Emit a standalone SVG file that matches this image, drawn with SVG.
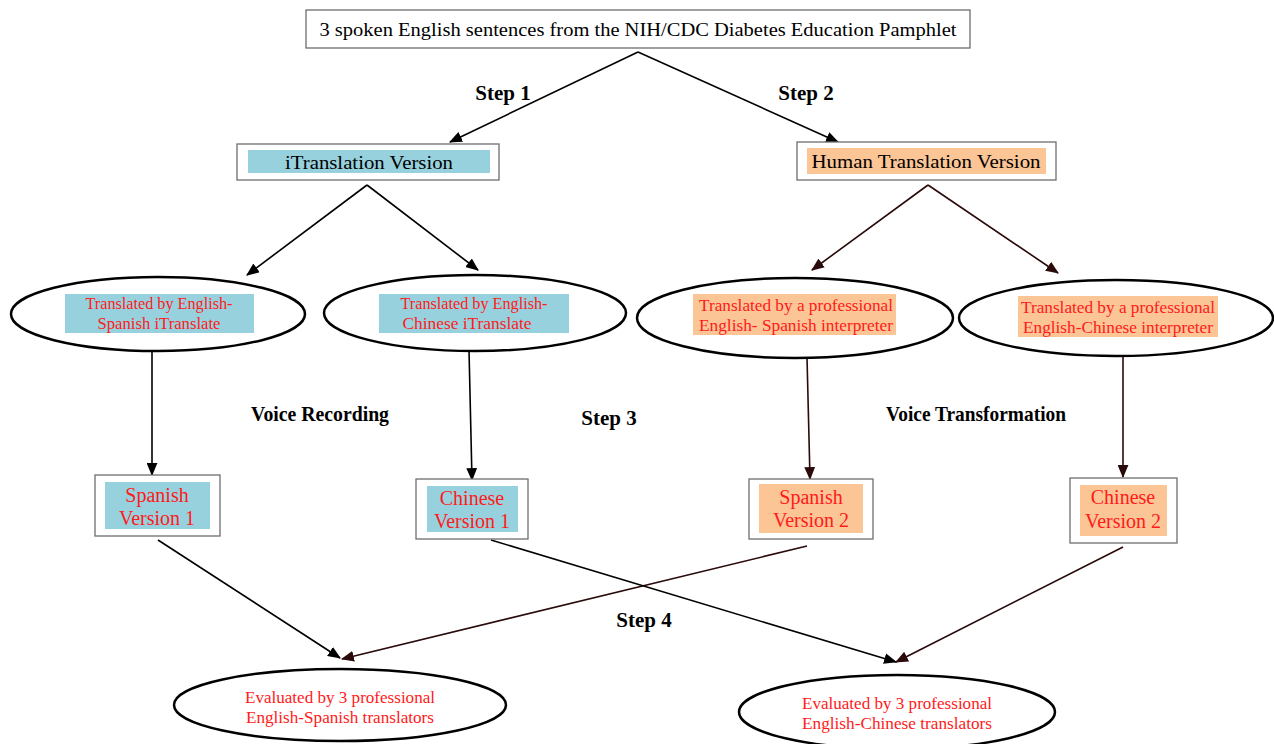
<svg xmlns="http://www.w3.org/2000/svg" width="1274" height="744" viewBox="0 0 1274 744">
<defs>
<marker id="ah" viewBox="0 0 12 10" refX="11" refY="5" markerWidth="13" markerHeight="11" orient="auto" markerUnits="userSpaceOnUse"><path d="M0,0 L12,5 L0,10 z" fill="#000"/></marker>
<marker id="ahb" viewBox="0 0 12 10" refX="11" refY="5" markerWidth="13" markerHeight="11" orient="auto" markerUnits="userSpaceOnUse"><path d="M0,0 L12,5 L0,10 z" fill="#2a0a0a"/></marker>
<style>
.box{fill:#fff;stroke:#6e6e6e;stroke-width:1.3}
.ell{fill:#fff;stroke:#000;stroke-width:2.5}
.blue{fill:#97d1de}
.org{fill:#fbc596}
.t{font-family:"Liberation Serif",serif;text-anchor:middle}
.blk{fill:#000;font-size:19px}
.red{fill:#ff1a1a}
.sm{font-size:17px}
.md{font-size:20px}
.step{font-family:"Liberation Serif",serif;font-weight:bold;font-size:21px;fill:#000;text-anchor:middle}
.c{stroke:#000;stroke-width:1.6;fill:none;marker-end:url(#ah)}
.cb{stroke:#2a0a0a;stroke-width:1.6;fill:none;marker-end:url(#ahb)}
</style>
</defs>
<rect width="1274" height="744" fill="#fff"/>

<g id="connectors">
<line class="c" x1="638" y1="52" x2="450" y2="142"/>
<line class="c" x1="638" y1="52" x2="838" y2="142"/>
<line class="c" x1="367" y1="185" x2="247" y2="275"/>
<line class="c" x1="367" y1="185" x2="478" y2="270"/>
<line class="cb" x1="928" y1="185" x2="812" y2="270"/>
<line class="cb" x1="928" y1="185" x2="1058" y2="273"/>
<line class="c" x1="152" y1="352" x2="152" y2="475"/>
<line class="c" x1="469" y1="350" x2="472" y2="480"/>
<line class="cb" x1="807" y1="357" x2="810" y2="479"/>
<line class="cb" x1="1123" y1="355" x2="1123" y2="477"/>
<line class="c" x1="158" y1="540" x2="340" y2="658"/>
<line class="cb" x1="807" y1="546" x2="342" y2="659"/>
<line class="c" x1="491" y1="540" x2="896" y2="662"/>
<line class="cb" x1="1123" y1="547" x2="896" y2="662"/>
</g>

<g id="labels">
<text class="step" x="503" y="100">Step 1</text>
<text class="step" x="806" y="100">Step 2</text>
<text class="step" x="320" y="421" font-size="19" textLength="138" lengthAdjust="spacingAndGlyphs">Voice Recording</text>
<text class="step" x="609" y="425">Step 3</text>
<text class="step" x="976" y="421" font-size="19" textLength="180" lengthAdjust="spacingAndGlyphs">Voice Transformation</text>
<text class="step" x="644" y="627">Step 4</text>
</g>

<g id="source">
<rect class="box" x="306" y="10" width="664" height="38"/>
<text class="t blk" x="638" y="36" textLength="637" lengthAdjust="spacingAndGlyphs">3 spoken English sentences from the NIH/CDC Diabetes Education Pamphlet</text>
</g>

<g id="itranslation">
<rect class="box" x="237" y="144" width="262" height="36"/>
<rect class="blue" x="248" y="150" width="242" height="23"/>
<text class="t blk" x="369" y="169" textLength="168" lengthAdjust="spacingAndGlyphs">iTranslation Version</text>
</g>

<g id="human">
<rect class="box" x="797" y="142" width="259" height="38"/>
<rect class="org" x="807" y="148" width="239" height="26"/>
<text class="t blk" x="926" y="168" textLength="229" lengthAdjust="spacingAndGlyphs">Human Translation Version</text>
</g>

<g id="it-spanish">
<ellipse class="ell" cx="158" cy="314" rx="147" ry="37"/>
<rect class="blue" x="65" y="294" width="189" height="39"/>
<text class="t red sm" x="159" y="309" textLength="147" lengthAdjust="spacingAndGlyphs">Translated by English-</text>
<text class="t red sm" x="159" y="329" textLength="123" lengthAdjust="spacingAndGlyphs">Spanish iTranslate</text>
</g>

<g id="it-chinese">
<ellipse class="ell" cx="475" cy="313" rx="151" ry="38"/>
<rect class="blue" x="379" y="294" width="190" height="39"/>
<text class="t red sm" x="474" y="309" textLength="147" lengthAdjust="spacingAndGlyphs">Translated by English-</text>
<text class="t red sm" x="467" y="329" textLength="129" lengthAdjust="spacingAndGlyphs">Chinese iTranslate</text>
</g>

<g id="hu-spanish">
<ellipse class="ell" cx="795" cy="318" rx="158" ry="40"/>
<rect class="org" x="693" y="294" width="203" height="41"/>
<text class="t red sm" x="796" y="311" textLength="194" lengthAdjust="spacingAndGlyphs">Translated by a professional</text>
<text class="t red sm" x="796" y="331" textLength="194" lengthAdjust="spacingAndGlyphs">English- Spanish interpreter</text>
</g>

<g id="hu-chinese">
<ellipse class="ell" cx="1116" cy="318" rx="157" ry="38"/>
<rect class="org" x="1018" y="296" width="200" height="41"/>
<text class="t red sm" x="1118" y="313" textLength="194" lengthAdjust="spacingAndGlyphs">Translated by a professional</text>
<text class="t red sm" x="1118" y="333" textLength="190" lengthAdjust="spacingAndGlyphs">English-Chinese interpreter</text>
</g>

<g id="spanish-v1">
<rect class="box" x="95" y="475" width="125" height="61"/>
<rect class="blue" x="105" y="482" width="105" height="47"/>
<text class="t red md" x="157" y="502">Spanish</text>
<text class="t red md" x="157" y="525">Version 1</text>
</g>

<g id="chinese-v1">
<rect class="box" x="416" y="479" width="112" height="60"/>
<rect class="blue" x="427" y="486" width="91" height="46"/>
<text class="t red md" x="472" y="505">Chinese</text>
<text class="t red md" x="472" y="528">Version 1</text>
</g>

<g id="spanish-v2">
<rect class="box" x="749" y="479" width="124" height="60"/>
<rect class="org" x="759" y="484" width="104" height="49"/>
<text class="t red md" x="811" y="504">Spanish</text>
<text class="t red md" x="811" y="527">Version 2</text>
</g>

<g id="chinese-v2">
<rect class="box" x="1070" y="478" width="107" height="65"/>
<rect class="org" x="1080" y="485" width="87" height="51"/>
<text class="t red md" x="1123" y="504">Chinese</text>
<text class="t red md" x="1123" y="528">Version 2</text>
</g>

<g id="eval-spanish">
<ellipse class="ell" cx="340" cy="705" rx="166" ry="36"/>
<text class="t red sm" x="340" y="703" textLength="190" lengthAdjust="spacingAndGlyphs">Evaluated by 3 professional</text>
<text class="t red sm" x="340" y="723" textLength="188" lengthAdjust="spacingAndGlyphs">English-Spanish translators</text>
</g>

<g id="eval-chinese">
<ellipse class="ell" cx="897" cy="712" rx="158" ry="37"/>
<text class="t red sm" x="897" y="709" textLength="190" lengthAdjust="spacingAndGlyphs">Evaluated by 3 professional</text>
<text class="t red sm" x="897" y="729" textLength="190" lengthAdjust="spacingAndGlyphs">English-Chinese translators</text>
</g>
</svg>
